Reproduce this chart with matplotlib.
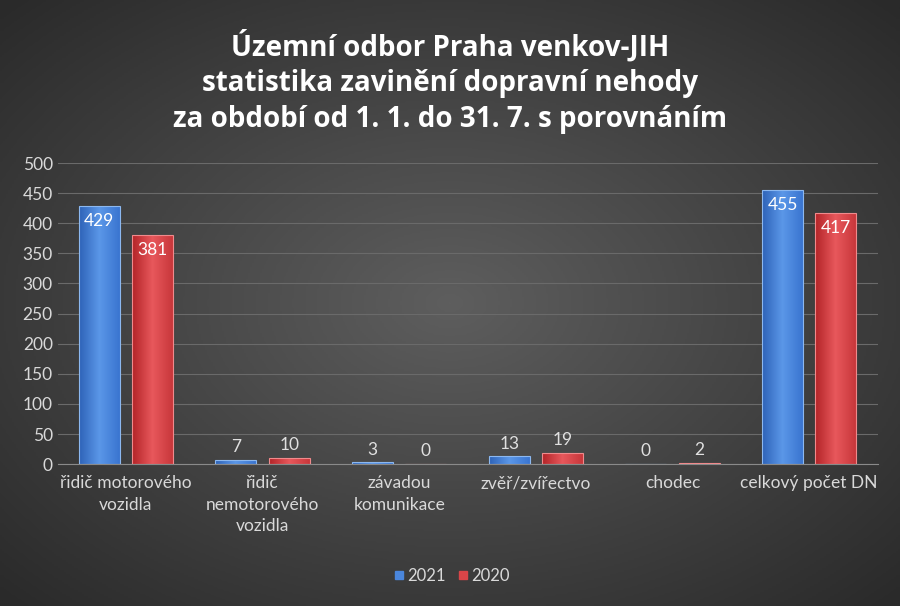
import numpy as np
import matplotlib
matplotlib.use("Agg")
import matplotlib.pyplot as plt
from matplotlib.colors import LinearSegmentedColormap

plt.rcParams['font.family'] = ['Lato', 'DejaVu Sans']

categories = ["řidič motorového\nvozidla", "řidič\nnemotorového\nvozidla", "závadou\nkomunikace",
              "zvěř/zvířectvo", "chodec", "celkový počet DN"]
values_2021 = [429, 7, 3, 13, 0, 455]
values_2020 = [381, 10, 0, 19, 2, 417]
title = "Územní odbor Praha venkov-JIH\nstatistika zavinění dopravní nehody\nza období od 1. 1. do 31. 7. s porovnáním"

fig = plt.figure(figsize=(9, 6.06), dpi=100)

# radial background
bg = fig.add_axes([0, 0, 1, 1], zorder=-10)
yy, xx = np.mgrid[-1:1:300j, -1:1:450j]
r = np.sqrt(xx**2 + yy**2)
bg.imshow(r, cmap=LinearSegmentedColormap.from_list("bg", ["#5e5e5e", "#2a2a2a"]),
          extent=[0, 1, 0, 1], aspect='auto', vmin=0, vmax=1.4)
bg.axis('off')

ax = fig.add_axes([0.064, 0.234, 0.911, 0.497])
ax.patch.set_alpha(0)
x = np.arange(len(categories))
w = 0.3
off = 0.195

blue_cm = LinearSegmentedColormap.from_list("b", ["#2e63b8", "#5b97e8", "#3a75d0"])
red_cm = LinearSegmentedColormap.from_list("r", ["#b32428", "#e8585c", "#c8373b"])
grad = np.linspace(0, 1, 64).reshape(1, -1)

def draw(xs, vals, cm, edge):
    bars = ax.bar(xs, vals, w, color='none', edgecolor=edge, linewidth=0.8, zorder=3)
    for b in bars:
        if b.get_height() <= 0:
            continue
        im = ax.imshow(grad, cmap=cm, aspect='auto', zorder=2,
                       extent=[b.get_x(), b.get_x() + b.get_width(), 0, b.get_height()])
        im.set_clip_path(b)
    return bars

draw(x - off, values_2021, blue_cm, "#8cb8f0")
draw(x + off, values_2020, red_cm, "#f08a8c")

for xs, vals in ((x - off, values_2021), (x + off, values_2020)):
    for xi, v in zip(xs, vals):
        if v > 100:
            ax.text(xi, v - 12, str(v), ha='center', va='top', color='white', fontsize=12.5, zorder=4)
        else:
            ax.text(xi, v + 8, str(v), ha='center', va='bottom', color='#e0e0e0', fontsize=12.5, zorder=4)

ax.set_xlim(-0.5, len(categories) - 0.5)
ax.set_ylim(0, 500)
ax.set_yticks(range(0, 501, 50))
ax.yaxis.grid(True, color='#6a6a6a', linewidth=0.8)
ax.set_axisbelow(True)
ax.set_xticks(x)
ax.set_xticklabels(categories, linespacing=1.4)
ax.tick_params(colors='#d9d9d9', labelsize=12.5, length=0)
ax.tick_params(axis='x', pad=8)
for s in ax.spines.values():
    s.set_visible(False)
ax.spines['bottom'].set_visible(True)
ax.spines['bottom'].set_color('#8a8a8a')

fig.text(0.5, 0.865, title, ha='center', va='center', color='white', fontsize=20,
         fontweight='bold', linespacing=1.3, family=['Open Sans', 'DejaVu Sans'])

h1 = plt.Line2D([], [], marker='s', ls='', color='#4a86dc', markersize=6)
h2 = plt.Line2D([], [], marker='s', ls='', color='#d94548', markersize=6)
fig.legend([h1, h2], ["2021", "2020"], loc='center', bbox_to_anchor=(0.5, 0.05), ncol=2,
           frameon=False, labelcolor='#d9d9d9', fontsize=12, handletextpad=0.0,
           columnspacing=0.5, handlelength=1.0)

fig.savefig("out.png", dpi=100)
